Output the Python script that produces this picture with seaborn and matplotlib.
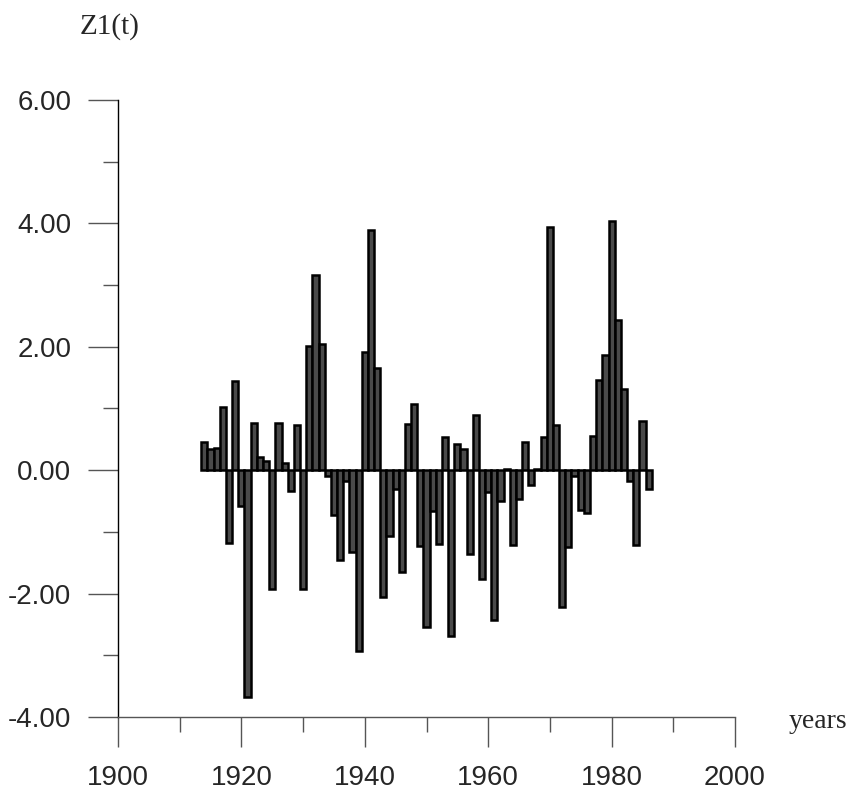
import matplotlib
matplotlib.use("Agg")
import matplotlib.pyplot as plt
import seaborn as sns
import numpy as np
import pandas as pd
from matplotlib.ticker import FixedLocator

years = list(range(1914, 1987))
values = [
    0.45, 0.34, 0.36, 1.03, -1.18, 1.45, -0.58, -3.67, 0.76, 0.22,
    0.15, -1.93, 0.76, 0.12, -0.34, 0.73, -1.92, 2.01, 3.16, 2.04,
    -0.09, -0.73, -1.46, -0.17, -1.32, -2.93, 1.92, 3.89, 1.66, -2.05,
    -1.06, -0.31, -1.65, 0.75, 1.08, -1.23, -2.54, -0.66, -1.20, 0.53,
    -2.69, 0.43, 0.35, -1.36, 0.90, -1.76, -0.36, -2.42, -0.50, 0.02,
    -1.22, -0.47, 0.46, -0.24, 0.02, 0.53, 3.94, 0.74, -2.22, -1.24,
    -0.09, -0.64, -0.69, 0.55, 1.47, 1.86, 4.04, 2.44, 1.31, -0.18,
    -1.22, 0.80, -0.31,
]
x_major = [1900, 1920, 1940, 1960, 1980, 2000]
x_minor = [1910, 1930, 1950, 1970, 1990]
y_major = [-4.0, -2.0, 0.0, 2.0, 4.0, 6.0]
y_minor = [-3.0, -1.0, 1.0, 3.0, 5.0]
y_labels = ["-4.00", "-2.00", "0.00", "2.00", "4.00", "6.00"]

df = pd.DataFrame({"year": years, "value": values})

sns.set_style("white")
plt.rcParams["font.family"] = ["Liberation Sans", "DejaVu Sans"]

fig = plt.figure(figsize=(8.53, 7.92), dpi=100)
ax = fig.add_axes([118 / 853, 75 / 792, 617 / 853, 617 / 792])

sns.barplot(data=df, x="year", y="value", native_scale=True, width=1.0,
            color="#4a4a4a", saturation=1, edgecolor="black", linewidth=1.8,
            errorbar=None, ax=ax)

ax.set_xlim(1900, 2000)
ax.set_ylim(-4, 6)
ax.set_xlabel("")
ax.set_ylabel("")

for s in ["top", "right"]:
    ax.spines[s].set_visible(False)
ax.spines["left"].set_color("black")
ax.spines["left"].set_linewidth(1.0)
ax.spines["bottom"].set_color("#555555")
ax.spines["bottom"].set_linewidth(1.0)

ax.xaxis.set_major_locator(FixedLocator(x_major))
ax.xaxis.set_minor_locator(FixedLocator(x_minor))
ax.yaxis.set_major_locator(FixedLocator(y_major))
ax.yaxis.set_minor_locator(FixedLocator(y_minor))
ax.set_xticklabels([str(v) for v in x_major])
ax.set_yticklabels(y_labels)

ax.tick_params(axis="x", which="major", direction="out", length=21.5, width=1.0,
               color="#555555", labelsize=20, pad=13, bottom=True)
ax.tick_params(axis="x", which="minor", direction="out", length=10.5, width=1.0,
               color="#555555", bottom=True)
ax.tick_params(axis="y", which="major", direction="out", length=21.5, width=1.0,
               color="#555555", labelsize=20, pad=12, left=True)
ax.tick_params(axis="y", which="minor", direction="out", length=10.5, width=1.0,
               color="#555555", left=True)

fig.text(80 / 853, 1 - 34 / 792, "Z1(t)", family=["Liberation Serif", "DejaVu Serif"],
         fontsize=21, ha="left", va="baseline")
fig.text(789 / 853, 1 - 728 / 792, "years", family=["Liberation Serif", "DejaVu Serif"],
         fontsize=20, ha="left", va="baseline")

fig.savefig("out.png", dpi=100)
